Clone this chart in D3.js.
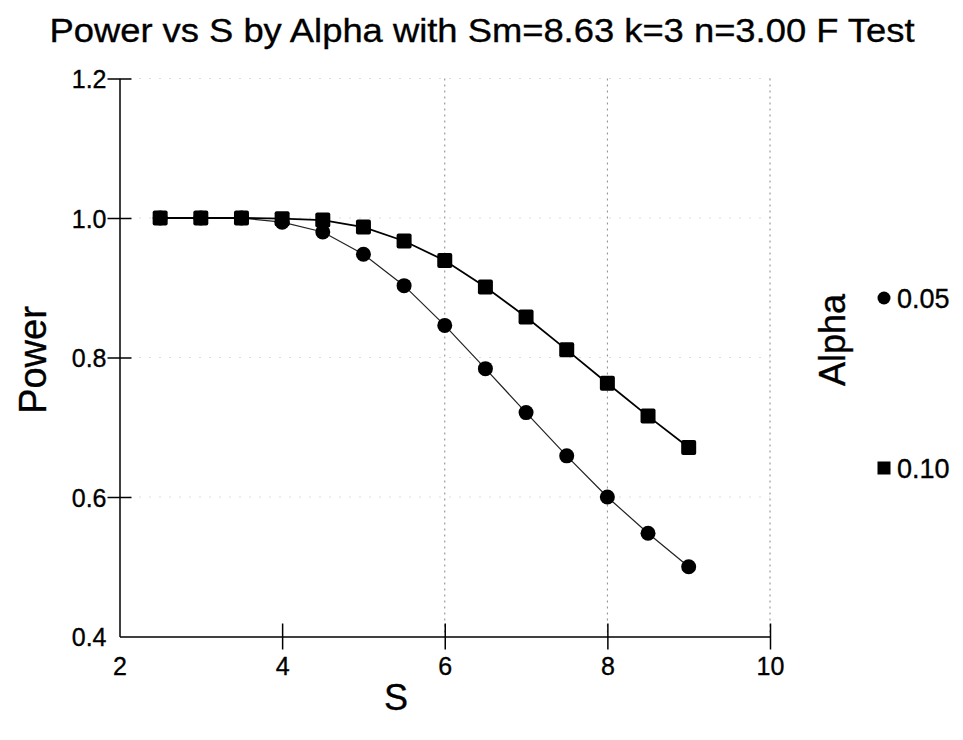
<!DOCTYPE html>
<html>
<head>
<meta charset="utf-8">
<script src="https://cdn.jsdelivr.net/npm/d3@7"></script>
<style>
  body { margin: 0; background: #fff; }
  svg { display: block; font-family: "Liberation Sans", Arial, Helvetica, sans-serif; }
  text { fill: #000; stroke: #000; stroke-width: 0.35px; }
</style>
</head>
<body>
<svg id="chart" width="963" height="740"></svg>
<script>
// Data
var sValues = [2.5, 3, 3.5, 4, 4.5, 5, 5.5, 6, 6.5, 7, 7.5, 8, 8.5, 9];
var power05 = [1.000, 1.000, 1.000, 0.994, 0.980, 0.948, 0.903, 0.846, 0.784, 0.721, 0.659, 0.600, 0.548, 0.500];
var power10 = [1.000, 1.000, 1.000, 0.999, 0.997, 0.987, 0.967, 0.939, 0.901, 0.858, 0.811, 0.763, 0.716, 0.671];
var alphaLabels = ["0.05", "0.10"];
var xTicks = [2, 4, 6, 8, 10];
var yTicks = [0.4, 0.6, 0.8, 1.0, 1.2];

var svg = d3.select('#chart');

var x = d3.scaleLinear().domain([2, 10]).range([119.5, 770]);
var y = d3.scaleLinear().domain([0.4, 1.2]).range([636.5, 78.5]);

// grid lines (faint, as in the scanned original)
svg.append('g').selectAll('line')
    .data(yTicks.filter(function(d){ return d > 0.4; }))
    .enter().append('line')
    .attr('x1', x(2)).attr('x2', x(10))
    .attr('y1', function(d){ return y(d); })
    .attr('y2', function(d){ return y(d); })
    .attr('stroke', '#bbb').attr('stroke-width', 1)
    .attr('stroke-dasharray', '1,9');

svg.append('g').selectAll('line')
    .data(xTicks.filter(function(d){ return d > 4; }))
    .enter().append('line')
    .attr('x1', function(d){ return x(d); })
    .attr('x2', function(d){ return x(d); })
    .attr('y1', y(1.2)).attr('y2', y(0.4))
    .attr('stroke', '#888').attr('stroke-width', 1)
    .attr('stroke-dasharray', '2,4');

// axes - ticks cross the axis line on both sides
var xAxis = d3.axisBottom(x).tickValues(xTicks).tickSize(0).tickFormat(d3.format('d'));
var gx = svg.append('g').attr('transform', 'translate(0,' + y(0.4) + ')').call(xAxis);
gx.attr('font-size', null).attr('font-family', null);
gx.select('.domain').attr('stroke', '#000').attr('stroke-width', 1.5);
gx.selectAll('.tick').filter(function(d){ return d == 2; }).select('line').remove();
gx.selectAll('.tick line').attr('y1', -13).attr('y2', 13).attr('stroke', '#000').attr('stroke-width', 1.5);
gx.selectAll('.tick text')
    .attr('y', 38).attr('dy', 0)
    .style('font-size', '25px');

var yAxis = d3.axisLeft(y).tickValues(yTicks).tickSize(0).tickFormat(d3.format('.1f'));
var gy = svg.append('g').attr('transform', 'translate(' + x(2) + ',0)').call(yAxis);
gy.attr('font-size', null).attr('font-family', null);
gy.select('.domain').attr('stroke', '#000').attr('stroke-width', 1.5);
gy.selectAll('.tick').filter(function(d){ return d == 0.4; }).select('line').remove();
gy.selectAll('.tick line').attr('x1', -12).attr('x2', 12).attr('stroke', '#000').attr('stroke-width', 1.5);
gy.selectAll('.tick text')
    .attr('x', -13).attr('dy', '0.36em')
    .style('font-size', '25px');

// series
var line = d3.line()
    .x(function(d){ return x(d[0]); })
    .y(function(d){ return y(d[1]); });

var data05 = sValues.map(function(s, i){ return [s, power05[i]]; });
var data10 = sValues.map(function(s, i){ return [s, power10[i]]; });

svg.append('path').datum(data05)
    .attr('d', line).attr('fill', 'none')
    .attr('stroke', '#222').attr('stroke-width', 1.2);
svg.append('path').datum(data10)
    .attr('d', line).attr('fill', 'none')
    .attr('stroke', '#000').attr('stroke-width', 1.8);

svg.append('g').selectAll('circle')
    .data(data05).enter().append('circle')
    .attr('cx', function(d){ return x(d[0]); })
    .attr('cy', function(d){ return y(d[1]); })
    .attr('r', 7.5).attr('fill', '#000');

svg.append('g').selectAll('rect')
    .data(data10).enter().append('rect')
    .attr('x', function(d){ return x(d[0]) - 7.5; })
    .attr('y', function(d){ return y(d[1]) - 7.5; })
    .attr('width', 15).attr('height', 15)
    .attr('rx', 2).attr('fill', '#000');

// title
svg.append('text')
    .attr('x', 482).attr('y', 42)
    .attr('text-anchor', 'middle')
    .attr('font-size', 34)
    .attr('textLength', 865).attr('lengthAdjust', 'spacingAndGlyphs')
    .text('Power vs S by Alpha with Sm=8.63 k=3 n=3.00 F Test');

// axis titles
svg.append('text')
    .attr('transform', 'translate(46,360) rotate(-90)')
    .attr('text-anchor', 'middle')
    .attr('font-size', 38)
    .text('Power');

svg.append('text')
    .attr('x', 396).attr('y', 710)
    .attr('text-anchor', 'middle')
    .attr('font-size', 36)
    .text('S');

svg.append('text')
    .attr('transform', 'translate(845,340) rotate(-90)')
    .attr('text-anchor', 'middle')
    .attr('font-size', 36)
    .text('Alpha');

// legend
var legendY = [298, 468];
var lg = svg.append('g').selectAll('g')
    .data(alphaLabels).enter().append('g')
    .attr('transform', function(d, i){ return 'translate(884,' + legendY[i] + ')'; });
lg.filter(function(d, i){ return i == 0; }).append('circle').attr('r', 6.5).attr('fill', '#000');
lg.filter(function(d, i){ return i == 1; }).append('rect')
    .attr('x', -6.5).attr('y', -6.5).attr('width', 13).attr('height', 13).attr('fill', '#000');
lg.append('text')
    .attr('x', 13).attr('dy', '0.36em')
    .attr('font-size', 27)
    .text(function(d){ return d; });
</script>
</body>
</html>
